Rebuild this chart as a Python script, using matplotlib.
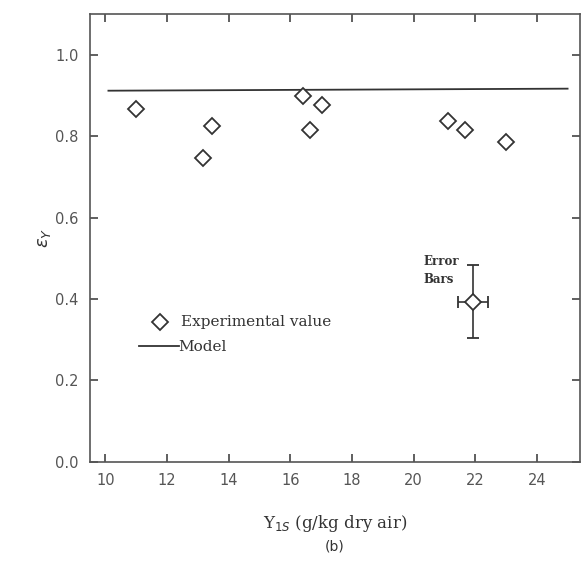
import matplotlib.pyplot as plt

exp_x = [10.98, 13.16, 13.45, 16.43, 16.63, 17.03, 21.13, 21.67, 23.0]
exp_y = [0.867, 0.747, 0.826, 0.898, 0.816, 0.876, 0.837, 0.816, 0.787]

# model line
model_x = [10.1, 25.0]
model_y = [0.912, 0.917]

# sample error bar
err_x = [21.94]
err_y = [0.393]
err_dx = [0.49]
err_dy = [0.09]

xticks = [10, 12, 14, 16, 18, 20, 22, 24]
yticks = [0.0, 0.2, 0.4, 0.6, 0.8, 1.0]

fig = plt.figure(figsize=(5.84, 5.68), dpi=100)
ax = fig.add_axes([0.154, 0.187, 0.839, 0.788])

ax.plot(model_x, model_y, color='#333333', lw=1.3)
ax.plot(exp_x, exp_y, linestyle='none', marker='D', markersize=8.5,
        markerfacecolor='white', markeredgecolor='#333333', markeredgewidth=1.3)
ax.errorbar(err_x, err_y, xerr=err_dx, yerr=err_dy, fmt='D', markersize=8.5,
            markerfacecolor='white', markeredgecolor='#333333', markeredgewidth=1.3,
            ecolor='#333333', elinewidth=1.2, capsize=4, capthick=1.2)

ax.text(20.33, 0.47, 'Error\nBars', fontsize=8.5, family='DejaVu Serif',
        fontweight='bold', color='#333333', ha='left', va='center', linespacing=1.5)

# hand drawn legend
ax.plot([11.76], [0.343], linestyle='none', marker='D', markersize=8.5,
        markerfacecolor='white', markeredgecolor='#333333', markeredgewidth=1.3)
ax.text(12.45, 0.343, 'Experimental value', fontsize=11, family='DejaVu Serif',
        color='#333333', va='center')
ax.plot([11.1, 12.38], [0.284, 0.284], color='#333333', lw=1.3)
ax.text(12.38, 0.282, 'Model', fontsize=11, family='DejaVu Serif',
        color='#333333', va='center')

ax.set_xlim(9.5, 25.4)
ax.set_ylim(0, 1.1)
ax.set_xticks(xticks)
ax.set_yticks(yticks)
ax.set_yticklabels(['0.0', '0.2', '0.4', '0.6', '0.8', '1.0'])
ax.tick_params(direction='in', top=True, right=True, length=6, width=1.2,
               labelsize=10.5, labelcolor='#555555', color='#444444', pad=8)
for s in ax.spines.values():
    s.set_color('#555555')
    s.set_linewidth(1.2)

ax.set_xlabel(r'Y$_{1S}$ (g/kg dry air)', fontsize=12, family='DejaVu Serif',
              color='#333333', labelpad=18)
ax.set_ylabel(r'$\varepsilon_Y$', fontsize=13, color='#333333', labelpad=2)
fig.text(0.573, 0.03, '(b)', fontsize=10, ha='center', color='#333333')

fig.savefig('out.png', dpi=100)
